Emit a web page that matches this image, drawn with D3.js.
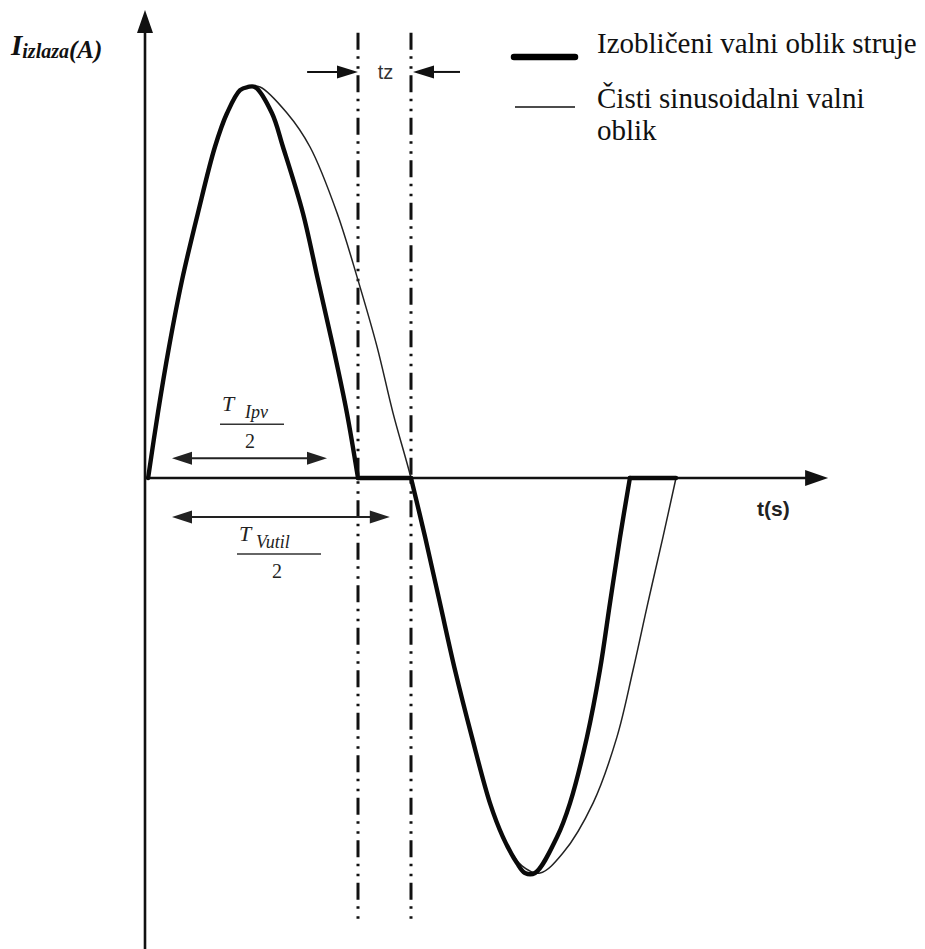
<!DOCTYPE html>
<html>
<head>
<meta charset="utf-8">
<script src="https://cdn.jsdelivr.net/npm/d3@7"></script>
<style>
  html, body { margin: 0; padding: 0; background: #fff; }
  svg { display: block; }
</style>
</head>
<body>
<script>
// ---------------- data ----------------
// distorted current waveform (thick)
const thickT = [0.08, 0.45, 0.87, 1.36, 1.96, 2.60, 3.06, 3.55, 3.85, 4.11, 4.75, 5.17, 5.92, 6.49, 7.06, 7.58, 8.0,
                10.0, 10.53, 11.09, 11.66, 12.30, 12.98, 13.47, 14.0, 14.30, 14.68, 15.51, 16.0, 16.64, 17.13, 17.51, 17.89, 18.26, 20.0];
const thickI = [0, 0.165, 0.332, 0.501, 0.671, 0.838, 0.924, 0.982, 0.99, 0.99, 0.924, 0.838, 0.671, 0.501, 0.332, 0.165, 0,
                0, -0.149, -0.316, -0.486, -0.656, -0.823, -0.909, -0.975, -1.0, -1.0, -0.909, -0.823, -0.656, -0.486, -0.316, -0.149, 0, 0];
// pure sinusoidal waveform (thin)
const thinT = [0.08, 0.45, 0.87, 1.36, 1.96, 2.60, 3.06, 3.55, 3.85, 4.30, 5.32, 6.19, 7.21, 8.0, 8.72, 9.32, 10.0,
               10.53, 11.09, 11.66, 12.30, 12.98, 13.47, 14.19, 14.87, 15.74, 16.87, 17.77, 18.38, 18.94, 19.51, 20.0];
const thinI = [0, 0.165, 0.332, 0.501, 0.671, 0.838, 0.924, 0.982, 0.99, 0.99, 0.924, 0.838, 0.671, 0.501, 0.332, 0.165, 0,
               -0.149, -0.316, -0.486, -0.656, -0.823, -0.909, -0.982, -1.0, -0.949, -0.823, -0.656, -0.486, -0.316, -0.149, 0];
// dash-dot marker lines (zero crossings) and tz arrows
const markerT = [8.0, 10.0];
const markerSpan = [-1.127, 1.127];
const tzArrowT = [6.08, 11.85];
const tzLevel = 1.028;
// half-period dimension arrows
const dimLabels = ["Ipv", "Vutil"];
const dimT0 = [0.98, 0.98];
const dimT1 = [6.83, 9.2];
const dimLevel = [0.05, -0.099];
// axis extents
const axisTMax = 25.74;
const axisITop = 1.185;
const axisIBottom = -1.2;
// texts
const yLabelMain = "I", yLabelSub = "izlaza", yLabelUnit = "(A)";
const xLabel = "t(s)";
const tzLabel = "tz";
const legendLabels = ["Izobličeni valni oblik struje", "Čisti sinusoidalni valni", "oblik"];

// ---------------- drawing ----------------
const W = 925, H = 949;
const svg = d3.select("body").append("svg").attr("width", W).attr("height", H);
svg.append("rect").attr("width", W).attr("height", H).attr("fill", "#fff");

const x = d3.scaleLinear().domain([0, 20]).range([146, 676]);
const y = d3.scaleLinear().domain([-1, 1]).range([873, 83]);

const SERIF = "'Liberation Serif', 'Times New Roman', serif";
const SANS = "'Liberation Sans', Arial, sans-serif";

function head(tx, ty, dx, dy, len, hw) {
  const bx = tx - dx * len, by = ty - dy * len;
  const px = -dy * hw, py = dx * hw;
  return [[tx, ty], [bx + px, by + py], [bx - px, by - py]].map(p => p.join(",")).join(" ");
}

// axes
const axisColor = "#111";
const x0 = x(0), y0 = y(0);
const yTip = y(axisITop), xTip = x(axisTMax);
svg.append("line").attr("x1", x0 - 1).attr("x2", x0 - 1).attr("y1", y(axisIBottom)).attr("y2", yTip + 20)
  .attr("stroke", axisColor).attr("stroke-width", 2.6);
svg.append("polygon").attr("points", head(x0 - 1, yTip, 0, -1, 23, 8)).attr("fill", axisColor);
svg.append("line").attr("x1", x0 - 1).attr("x2", xTip - 20).attr("y1", y0).attr("y2", y0)
  .attr("stroke", axisColor).attr("stroke-width", 2.6);
svg.append("polygon").attr("points", head(xTip, y0, 1, 0, 23, 8)).attr("fill", axisColor);

// dash-dot-dot marker lines
svg.selectAll("line.marker").data(markerT).enter().append("line")
  .attr("class", "marker")
  .attr("x1", d => x(d)).attr("x2", d => x(d))
  .attr("y1", y(markerSpan[1])).attr("y2", y(markerSpan[0]))
  .attr("stroke", "#111").attr("stroke-width", 3)
  .attr("stroke-dasharray", "17,6.5,2.5,7.5,2.5,6.5");

// curves
const smooth = d3.curveCatmullRom.alpha(0.5);
const lineCurve = d3.line().x(d => x(d.t)).y(d => y(d.v)).curve(smooth);
const lineStraight = d3.line().x(d => x(d.t)).y(d => y(d.v));

// thin sine
const thinPts = thinT.map((t, i) => ({ t, v: thinI[i] }));
svg.append("path").attr("d", lineCurve(thinPts)).attr("fill", "none")
  .attr("stroke", "#222").attr("stroke-width", 1.5);

// thick distorted waveform: split into curved lobes and flat zero segments
const thickPts = thickT.map((t, i) => ({ t, v: thickI[i] }));
const segs = [];
let cur = [thickPts[0]];
for (let i = 1; i < thickPts.length; i++) {
  const a = thickPts[i - 1], b = thickPts[i];
  if (a.v === 0 && b.v === 0) {
    if (cur.length > 1) segs.push({ pts: cur, curve: true });
    segs.push({ pts: [a, b], curve: false });
    cur = [b];
  } else cur.push(b);
}
if (cur.length > 1) segs.push({ pts: cur, curve: true });
svg.selectAll("path.thick").data(segs).enter().append("path")
  .attr("class", "thick")
  .attr("d", d => d.curve ? lineCurve(d.pts) : lineStraight(d.pts))
  .attr("fill", "none").attr("stroke", "#0a0a0a").attr("stroke-width", 4.4)
  .attr("stroke-linecap", "round").attr("stroke-linejoin", "round");

// tz arrows
const tzY = y(tzLevel);
svg.append("line").attr("x1", x(tzArrowT[0])).attr("x2", x(markerT[0]) - 16).attr("y1", tzY).attr("y2", tzY)
  .attr("stroke", "#111").attr("stroke-width", 2);
svg.append("polygon").attr("points", head(x(markerT[0]), tzY, 1, 0, 21, 6.5)).attr("fill", "#111");
svg.append("line").attr("x1", x(tzArrowT[1])).attr("x2", x(markerT[1]) + 18).attr("y1", tzY).attr("y2", tzY)
  .attr("stroke", "#111").attr("stroke-width", 2);
svg.append("polygon").attr("points", head(x(markerT[1]) + 2, tzY, -1, 0, 21, 6.5)).attr("fill", "#111");
svg.append("text").attr("x", (x(markerT[0]) + x(markerT[1])) / 2 + 1).attr("y", tzY + 7)
  .attr("text-anchor", "middle").attr("font-family", SANS).style("font-size", "20px").attr("fill", "#333")
  .text(tzLabel);

// half-period dimension arrows with fraction labels
const dimColor = "#222";
const labelOffsets = [{ tx: 222, sx: 245, fx0: 220, fx1: 284 }, { tx: 239, sx: 256, fx0: 237, fx1: 321 }];
dimLabels.forEach((lab, i) => {
  const ay = y(dimLevel[i]);
  const xa = x(dimT0[i]), xb = x(dimT1[i]);
  svg.append("line").attr("x1", xa + 15).attr("x2", xb - 15).attr("y1", ay).attr("y2", ay)
    .attr("stroke", dimColor).attr("stroke-width", 2);
  svg.append("polygon").attr("points", head(xa, ay, -1, 0, 20, 6.5)).attr("fill", dimColor);
  svg.append("polygon").attr("points", head(xb, ay, 1, 0, 20, 6.5)).attr("fill", dimColor);
  const o = labelOffsets[i];
  const barY = i === 0 ? ay - 34 : ay + 37;
  svg.append("line").attr("x1", o.fx0).attr("x2", o.fx1).attr("y1", barY).attr("y2", barY)
    .attr("stroke", "#333").attr("stroke-width", 1.5);
  const num = svg.append("text").attr("font-family", SERIF).attr("font-style", "italic").attr("fill", "#222");
  num.append("tspan").attr("x", o.tx).attr("y", barY - 13).style("font-size", "22px").text("T");
  num.append("tspan").attr("x", o.sx).attr("y", barY - 6).style("font-size", "18px").text(lab);
  svg.append("text").attr("x", (o.fx0 + o.fx1) / 2 - 2).attr("y", barY + 24)
    .attr("text-anchor", "middle").attr("font-family", SERIF).style("font-size", "20px").attr("fill", "#222").text("2");
});

// x-axis label
svg.append("text").attr("x", 757).attr("y", 516).attr("font-family", SANS).attr("font-weight", "bold")
  .style("font-size", "21px").attr("fill", "#222").text(xLabel);

// y-axis label
const yl = svg.append("text").attr("font-family", SERIF).attr("font-weight", "bold").attr("font-style", "italic").attr("fill", "#111");
yl.append("tspan").attr("x", 11).attr("y", 55).style("font-size", "29px").text(yLabelMain);
yl.append("tspan").attr("y", 58).style("font-size", "20px").text(yLabelSub);
yl.append("tspan").attr("y", 58).style("font-size", "25px").text(yLabelUnit);

// legend
svg.append("line").attr("x1", 514).attr("x2", 575).attr("y1", 57).attr("y2", 57)
  .attr("stroke", "#000").attr("stroke-width", 6.5).attr("stroke-linecap", "round");
svg.append("line").attr("x1", 515).attr("x2", 575).attr("y1", 107).attr("y2", 107)
  .attr("stroke", "#111").attr("stroke-width", 1.3);
const legY = [53, 108, 140];
legendLabels.forEach((t, i) => {
  svg.append("text").attr("x", 597).attr("y", legY[i]).attr("font-family", SERIF)
    .style("font-size", "29px").attr("fill", "#111").text(t);
});
</script>
</body>
</html>
